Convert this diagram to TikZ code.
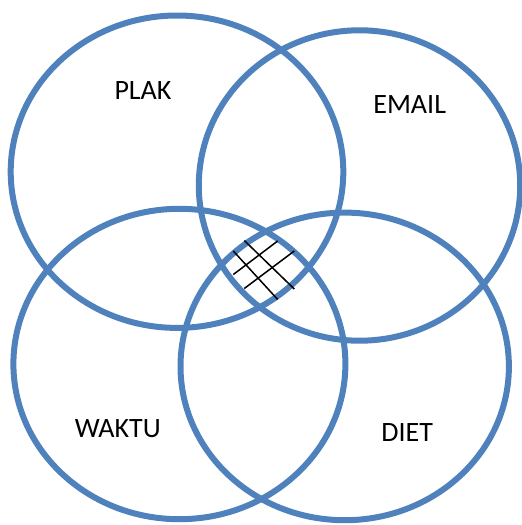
\documentclass[tikz,border=0pt]{standalone}
\usepackage{fontspec}
\setmainfont{Carlito}
\definecolor{vennblue}{HTML}{4F81BD}
\begin{document}
\begin{tikzpicture}[x=1pt,y=-1pt,
  ring/.style={draw=vennblue,line width=6pt},
  hatch/.style={draw=black,line width=1.5pt},
  lbl/.style={font=\fontsize{28}{34}\selectfont,inner sep=0pt}]
\useasboundingbox (0,0) rectangle (522,525);
\draw[ring] (177,171.7) ellipse [x radius=166.3,y radius=156.2];
\draw[ring] (359.5,185.5) ellipse [x radius=160.7,y radius=155.2];
\draw[ring] (179.4,364) ellipse [x radius=166,y radius=155.2];
\draw[ring] (344.7,366.4) ellipse [x radius=164.2,y radius=153.8];
\coordinate (h1a) at (244.3,240.5); \coordinate (h1b) at (294.3,289);
\coordinate (h2a) at (233.3,251); \coordinate (h2b) at (277.7,299.5);
\coordinate (h3a) at (277.7,241); \coordinate (h3b) at (233.3,274.5);
\coordinate (h4a) at (294.3,251); \coordinate (h4b) at (244.3,288.5);
\draw[hatch] (h1a) -- (h1b);
\draw[hatch] (h2a) -- (h2b);
\draw[hatch] (h3a) -- (h3b);
\draw[hatch] (h4a) -- (h4b);
\node[lbl] (plak) at (143,90.7) {PLAK};
\node[lbl] (email) at (409.7,104.2) {EMAIL};
\node[lbl] (waktu) at (117.8,428.8) {WAKTU};
\node[lbl] (diet) at (407.2,432.8) {DIET};
\end{tikzpicture}
\end{document}
